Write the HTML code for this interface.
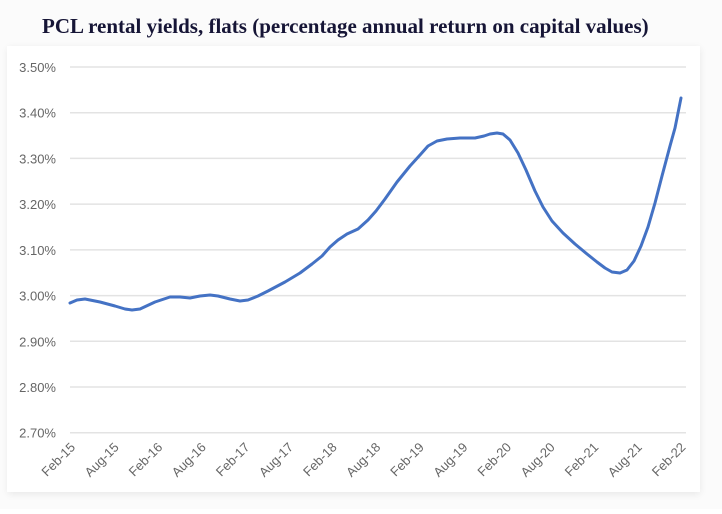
<!DOCTYPE html>
<html><head><meta charset="utf-8"><style>
body{margin:0;background:#fff;width:722px;height:509px;overflow:hidden;font-family:"Liberation Sans",sans-serif}
</style></head><body>
<svg width="722" height="509" viewBox="0 0 722 509" xmlns="http://www.w3.org/2000/svg">
<defs><filter id="sh" x="-5%" y="-5%" width="110%" height="110%"><feGaussianBlur stdDeviation="4"/></filter></defs>
<rect x="0" y="0" width="722" height="509" fill="#fbfbfb"/>
<rect x="8" y="48" width="692" height="446" fill="#000" opacity="0.08" filter="url(#sh)"/>
<rect x="7" y="46" width="693" height="446" fill="#fff"/>
<text x="42" y="33" font-family="Liberation Serif,serif" font-size="21" font-weight="bold" fill="#161536">PCL rental yields, flats (percentage annual return on capital values)</text>
<g stroke="#e3e3e3" stroke-width="1.5">
<line x1="70" x2="686" y1="67" y2="67"/><line x1="70" x2="686" y1="112.7" y2="112.7"/>
<line x1="70" x2="686" y1="158.4" y2="158.4"/><line x1="70" x2="686" y1="204.1" y2="204.1"/>
<line x1="70" x2="686" y1="249.9" y2="249.9"/><line x1="70" x2="686" y1="295.6" y2="295.6"/>
<line x1="70" x2="686" y1="341.3" y2="341.3"/><line x1="70" x2="686" y1="387" y2="387"/>
<line x1="70" x2="686" y1="432.7" y2="432.7"/>
</g>
<g font-size="13" fill="#666" text-anchor="end">
<text x="56" y="72">3.50%</text><text x="56" y="117.7">3.40%</text><text x="56" y="163.4">3.30%</text>
<text x="56" y="209.1">3.20%</text><text x="56" y="254.9">3.10%</text><text x="56" y="300.6">3.00%</text>
<text x="56" y="346.3">2.90%</text><text x="56" y="392">2.80%</text><text x="56" y="437.7">2.70%</text>
</g>
<g font-size="13" fill="#666" text-anchor="end">
<text transform="translate(76,448) rotate(-45)">Feb-15</text>
<text transform="translate(119.6,448) rotate(-45)">Aug-15</text>
<text transform="translate(163.2,448) rotate(-45)">Feb-16</text>
<text transform="translate(206.8,448) rotate(-45)">Aug-16</text>
<text transform="translate(250.4,448) rotate(-45)">Feb-17</text>
<text transform="translate(294,448) rotate(-45)">Aug-17</text>
<text transform="translate(337.6,448) rotate(-45)">Feb-18</text>
<text transform="translate(381.2,448) rotate(-45)">Aug-18</text>
<text transform="translate(424.8,448) rotate(-45)">Feb-19</text>
<text transform="translate(468.4,448) rotate(-45)">Aug-19</text>
<text transform="translate(512,448) rotate(-45)">Feb-20</text>
<text transform="translate(555.6,448) rotate(-45)">Aug-20</text>
<text transform="translate(599.2,448) rotate(-45)">Feb-21</text>
<text transform="translate(642.8,448) rotate(-45)">Aug-21</text>
<text transform="translate(686.4,448) rotate(-45)">Feb-22</text>
</g>
<polyline fill="none" stroke="#4472c4" stroke-width="3" stroke-linejoin="round" stroke-linecap="round"
points="70,303 77,300 85,299 100,302 115,306 125,309 132,310 140,309 155,302 170,297 180,297 190,298 200,296 210,295 218,296 230,299 240,301 248,300 258,296 268,291 285,282 300,273 312,264 322,256 330,247 338,240 347,234 358,229 368,220 376,211 385,199 397,182 410,166 420,155 428,146 437,141 447,139 460,138 475,138 484,136 490,134 497,133 503,134 510,140 518,153 526,170 535,191 543,207 552,221 563,233 575,244 587,254 597,262 605,268 612,272 620,273 627,270 634,261 641,246 648,227 655,203 662,176 670,146 675,128 681,98"/>
</svg>
</body></html>
